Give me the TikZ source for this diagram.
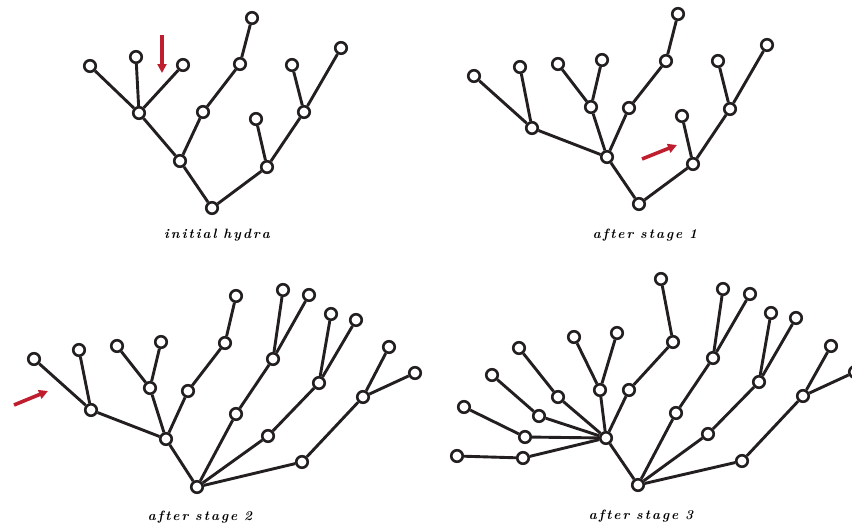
\documentclass[tikz,border=0pt]{standalone}
\usepackage{fontspec}
\usepackage{tikz}
\usetikzlibrary{arrows.meta}
\definecolor{ink}{HTML}{231F20}
\definecolor{cutred}{HTML}{BE1E2D}
\tikzset{
  hd/.style={circle,draw=ink,fill=white,line width=2.6pt,minimum size=11.5pt,inner sep=0pt},
  nk/.style={draw=ink,line width=2.9pt},
  cutarr/.style={-{Triangle[length=9pt,width=9pt]},line width=3.6pt,color=cutred},
  stagelbl/.style={font=\fontsize{13.5}{15}\selectfont\bfseries\itshape},
}
% letter-spaced word
\let\lspend\relax
\newcommand{\lsp}[1]{\lspaux#1\lspend}
\def\lspaux#1{\ifx#1\lspend\else#1\kern.15em\expandafter\lspaux\fi}
\newcommand{\gap}{\hspace{.35em}}
\newcommand{\stg}[1]{\oldstylenums{#1}}

\begin{document}
\begin{tikzpicture}[x=1pt,y=-1pt]
\useasboundingbox (0,0) rectangle (852,525);
% initial hydra
\node[hd] (p0) at (212,208) {};
\node[hd] (p0a) at (180,161) {};
\node[hd] (p0b) at (267,167) {};
\node[hd] (p0c) at (139,113) {};
\node[hd] (p0d) at (203,112) {};
\node[hd] (p0e) at (240,64) {};
\node[hd] (p0f) at (252,18) {};
\node[hd] (p0c1) at (90,66) {};
\node[hd] (p0c2) at (136,57) {};
\node[hd] (p0c3) at (183,65) {};
\node[hd] (p0g) at (256,119) {};
\node[hd] (p0k) at (304,112) {};
\node[hd] (p0k1) at (292,65) {};
\node[hd] (p0k2) at (341,48) {};
\foreach \u/\v in {p0/p0a,p0/p0b,p0a/p0c,p0a/p0d,p0c/p0c1,p0c/p0c2,p0c/p0c3,p0d/p0e,p0e/p0f,p0b/p0g,p0b/p0k,p0k/p0k1,p0k/p0k2}
  \draw[nk] (\u)--(\v);
\coordinate (x0s) at (162,35);
\coordinate (x0e) at (162,73);
\draw[cutarr] (x0s)--(x0e);
\node[stagelbl] (l0) at (218,235) {\lsp{initial}\gap\lsp{hydra}};

% after stage 1
\node[hd] (p1) at (639,204) {};
\node[hd] (p1a) at (607,157) {};
\node[hd] (p1b) at (693,164) {};
\node[hd] (p1p) at (532,128) {};
\node[hd] (p1q) at (591,107) {};
\node[hd] (p1r) at (629,108) {};
\node[hd] (p1p1) at (474,76) {};
\node[hd] (p1p2) at (520,67) {};
\node[hd] (p1q1) at (558,64) {};
\node[hd] (p1q2) at (602,60) {};
\node[hd] (p1e) at (666,61) {};
\node[hd] (p1f) at (678,14) {};
\node[hd] (p1g) at (682,116) {};
\node[hd] (p1k) at (730,109) {};
\node[hd] (p1k1) at (718,61) {};
\node[hd] (p1k2) at (767,45) {};
\foreach \u/\v in {p1/p1a,p1/p1b,p1a/p1p,p1a/p1q,p1a/p1r,p1p/p1p1,p1p/p1p2,p1q/p1q1,p1q/p1q2,p1r/p1e,p1e/p1f,p1b/p1g,p1b/p1k,p1k/p1k1,p1k/p1k2}
  \draw[nk] (\u)--(\v);
\coordinate (x1s) at (642,159);
\coordinate (x1e) at (677,145);
\draw[cutarr] (x1s)--(x1e);
\node[stagelbl] (l1) at (645,235) {\lsp{after}\gap\lsp{stage}\gap\stg{1}};

% after stage 2
\node[hd] (p2) at (197,487) {};
\node[hd] (p2a) at (166,439) {};
\node[hd] (p2p) at (91,410) {};
\node[hd] (p2q) at (150,388) {};
\node[hd] (p2r) at (188,391) {};
\node[hd] (p2p1) at (34,359) {};
\node[hd] (p2p2) at (79,350) {};
\node[hd] (p2q1) at (117,346) {};
\node[hd] (p2q2) at (161,342) {};
\node[hd] (p2e) at (225,343) {};
\node[hd] (p2f) at (236,296) {};
\node[hd] (p2u) at (236,414) {};
\node[hd] (p2uk) at (273,359) {};
\node[hd] (p2u1) at (283,290) {};
\node[hd] (p2u2) at (309,295) {};
\node[hd] (p2v) at (268,436) {};
\node[hd] (p2vk) at (319,383) {};
\node[hd] (p2v1) at (331,314) {};
\node[hd] (p2v2) at (356,320) {};
\node[hd] (p2w) at (302,462) {};
\node[hd] (p2wk) at (363,397) {};
\node[hd] (p2w1) at (389,347) {};
\node[hd] (p2w2) at (415,373) {};
\foreach \u/\v in {p2/p2a,p2a/p2p,p2a/p2q,p2a/p2r,p2p/p2p1,p2p/p2p2,p2q/p2q1,p2q/p2q2,p2r/p2e,p2e/p2f,p2/p2u,p2u/p2uk,p2uk/p2u1,p2uk/p2u2,p2/p2v,p2v/p2vk,p2vk/p2v1,p2vk/p2v2,p2/p2w,p2w/p2wk,p2wk/p2w1,p2wk/p2w2}
  \draw[nk] (\u)--(\v);
\coordinate (x2s) at (14,405);
\coordinate (x2e) at (48,391);
\draw[cutarr] (x2s)--(x2e);
\node[stagelbl] (l2) at (200,517) {\lsp{after}\gap\lsp{stage}\gap\stg{2}};

% after stage 3
\node[hd] (p3) at (638,485) {};
\node[hd] (p3a) at (606,438) {};
\node[hd] (p3s1) at (523,458) {};
\node[hd] (p3s2) at (525,437) {};
\node[hd] (p3s3) at (539,416) {};
\node[hd] (p3s4) at (558,397) {};
\node[hd] (p3t1) at (457,456) {};
\node[hd] (p3t2) at (464,407) {};
\node[hd] (p3t3) at (492,375) {};
\node[hd] (p3t4) at (519,348) {};
\node[hd] (p3q) at (600,390) {};
\node[hd] (p3q1) at (574,337) {};
\node[hd] (p3q2) at (617,333) {};
\node[hd] (p3r) at (629,390) {};
\node[hd] (p3e) at (673,342) {};
\node[hd] (p3f) at (661,279) {};
\node[hd] (p3u) at (676,413) {};
\node[hd] (p3uk) at (713,358) {};
\node[hd] (p3u1) at (723,289) {};
\node[hd] (p3u2) at (750,294) {};
\node[hd] (p3v) at (708,434) {};
\node[hd] (p3vk) at (759,382) {};
\node[hd] (p3v1) at (771,313) {};
\node[hd] (p3v2) at (796,318) {};
\node[hd] (p3w) at (742,461) {};
\node[hd] (p3wk) at (803,396) {};
\node[hd] (p3w1) at (831,346) {};
\node[hd] (p3w2) at (855,372) {};
\foreach \u/\v in {p3/p3a,p3a/p3s1,p3a/p3s2,p3a/p3s3,p3a/p3s4,p3s1/p3t1,p3s2/p3t2,p3s3/p3t3,p3s4/p3t4,p3a/p3q,p3q/p3q1,p3q/p3q2,p3a/p3r,p3r/p3e,p3e/p3f,p3/p3u,p3u/p3uk,p3uk/p3u1,p3uk/p3u2,p3/p3v,p3v/p3vk,p3vk/p3v1,p3vk/p3v2,p3/p3w,p3w/p3wk,p3wk/p3w1,p3wk/p3w2}
  \draw[nk] (\u)--(\v);
\node[stagelbl] (l3) at (641,516) {\lsp{after}\gap\lsp{stage}\gap\stg{3}};
\end{tikzpicture}
\end{document}
